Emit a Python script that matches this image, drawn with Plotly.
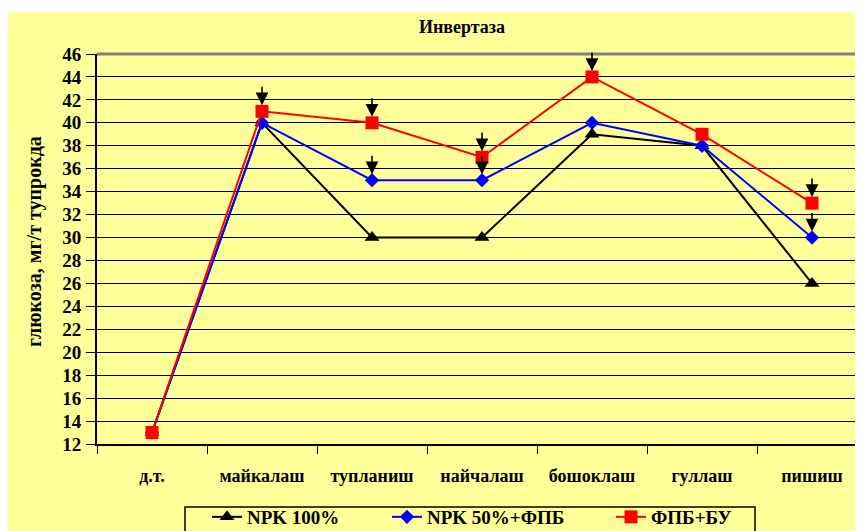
import plotly.graph_objects as go

categories = ["д.т.", "майкалаш", "тупланиш", "найчалаш", "бошоклаш", "гуллаш", "пишиш"]
npk100 = [13, 40, 30, 30, 39, 38, 26]
npk50_fpb = [13, 40, 35, 35, 40, 38, 30]
fpb_bu = [13, 41, 40, 37, 44, 39, 33]
series_names = ["NPK 100%", "NPK 50%+ФПБ", "ФПБ+БУ"]
y_ticks = list(range(12, 47, 2))
title_text = "Инвертаза"
y_title = "глюкоза, мг/т тупрокда"
# points marked with an arrow: (series index, category index)
arrow_points = [(2, 1), (2, 2), (1, 2), (2, 3), (1, 3), (2, 4), (2, 6), (1, 6)]

OFF = 8  # page body margin
W, H = 863 - OFF, 531 - OFF
L, T = 97 - OFF, 54 - OFF
B = H - (444 - OFF)
R = 0
PW, PH = W - L - R, H - T - B
YELLOW = "#FFFF99"
FAMILY = "Liberation Serif, Times New Roman, serif"
FONT = dict(family=FAMILY, size=18, color="black", weight="bold")

def px_x(page_x):
    return (page_x - OFF - L) / PW

def px_y(page_y):
    return (H - B - (page_y - OFF)) / PH

all_series = [npk100, npk50_fpb, fpb_bu]
colors = ["black", "#0000FF", "#FF0000"]
symbols = ["triangle-up", "diamond", "square"]
msizes = [13, 11, 13]
legend_ids = ["legend", "legend2", "legend3"]
legend_px = [207, 387, 611]

fig = go.Figure()
for i, vals in enumerate(all_series):
    fig.add_trace(go.Scatter(
        x=categories, y=vals, name=series_names[i], mode="lines+markers",
        line=dict(color=colors[i], width=2),
        marker=dict(symbol=symbols[i], size=msizes[i], color=colors[i]),
        legend=legend_ids[i], cliponaxis=False,
    ))

annotations = []
for si, ci in arrow_points:
    annotations.append(dict(
        x=categories[ci], y=all_series[si][ci], xref="x", yref="y",
        ax=0, ay=-26, showarrow=True, arrowhead=2, arrowsize=1.6,
        arrowwidth=1.6, arrowcolor="black", standoff=6, text="",
    ))
annotations.append(dict(
    x=px_x(35), y=px_y(242), xref="paper", yref="paper",
    text=y_title, textangle=-90, showarrow=False,
    font=dict(FONT, size=20), xanchor="center", yanchor="middle",
))

shapes = [
    dict(type="rect", xref="paper", yref="paper", layer="below",
         x0=px_x(0), x1=px_x(880), y0=px_y(560), y1=px_y(12),
         fillcolor=YELLOW, line=dict(width=0)),
    dict(type="line", xref="paper", yref="paper", x0=0, x1=1, y0=1, y1=1,
         line=dict(color="#808080", width=3)),
    dict(type="rect", xref="paper", yref="paper",
         x0=px_x(185), x1=px_x(755), y0=px_y(545), y1=px_y(507),
         line=dict(color="black", width=1.5), fillcolor="rgba(0,0,0,0)"),
]

layout_legends = {}
for i, lid in enumerate(legend_ids):
    layout_legends[lid] = dict(
        x=px_x(legend_px[i]), xanchor="left", y=px_y(498), yanchor="top",
        orientation="h", bgcolor="rgba(0,0,0,0)", borderwidth=0,
        font=dict(family=FAMILY, size=19, color="black", weight="bold"),
    )

fig.update_layout(
    width=W, height=H,
    margin=dict(l=L, r=R, t=T, b=B, pad=0, autoexpand=False),
    paper_bgcolor="white", plot_bgcolor=YELLOW,
    title=dict(text=title_text, x=(462 - OFF) / W, xanchor="center", xref="container",
               y=1 - (27 - OFF) / H, yanchor="middle", font=FONT),
    showlegend=True,
    annotations=annotations, shapes=shapes,
    **layout_legends,
)
fig.update_xaxes(
    type="category", range=[-0.5, 6.5 - 4 / 110], tickson="boundaries",
    ticks="outside", ticklen=8, tickwidth=1, tickcolor="black",
    showline=True, linecolor="black", linewidth=2, showgrid=False,
    tickfont=FONT, ticklabelstandoff=14,
)
fig.update_yaxes(
    range=[12, 46], tickvals=y_ticks, ticks="outside", ticklen=9, tickwidth=1,
    tickcolor="black", showline=True, linecolor="black", linewidth=2,
    showgrid=True, gridcolor="black", gridwidth=1, zeroline=False,
    tickfont=dict(FONT, size=19), ticklabelstandoff=1,
)
fig.write_html(
    "out.html",
    post_script="document.documentElement.style.overflow='hidden';document.body.style.overflow='hidden';",
)
